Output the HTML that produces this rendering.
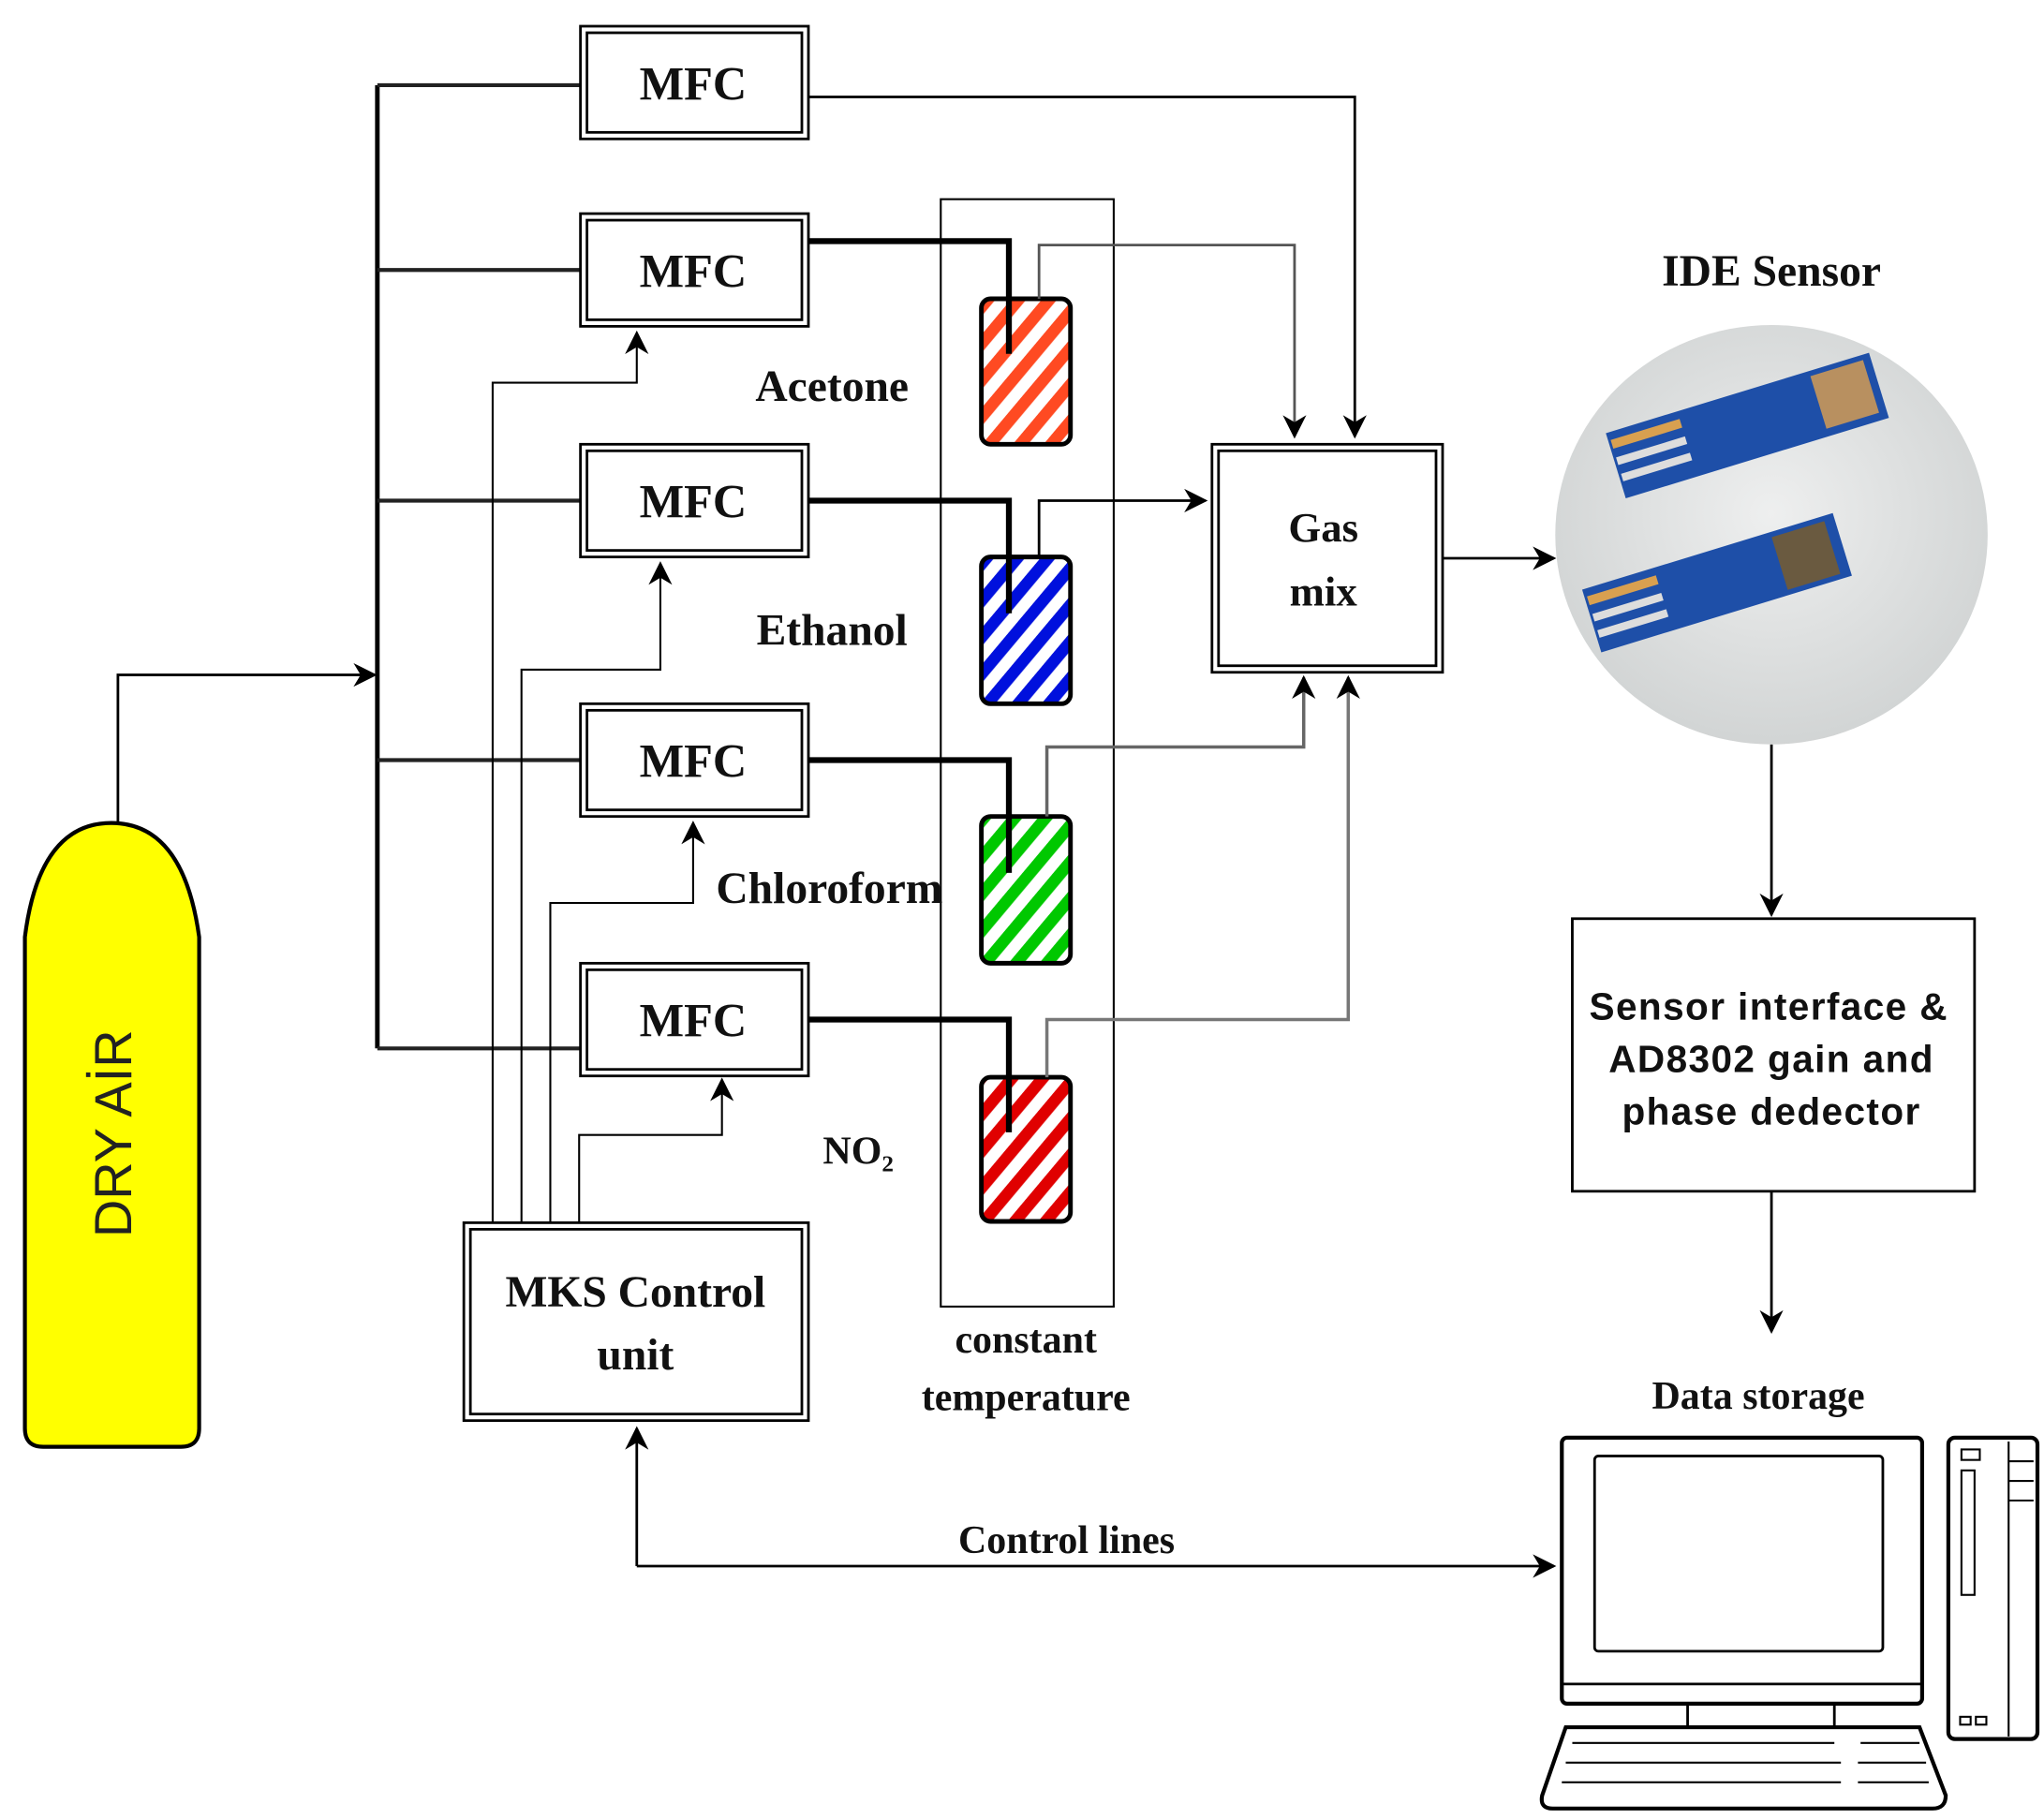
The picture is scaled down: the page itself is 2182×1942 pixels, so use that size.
<!DOCTYPE html>
<html><head><meta charset="utf-8"><style>html,body{margin:0;padding:0;background:#fff}svg{display:block}</style></head><body>
<svg xmlns="http://www.w3.org/2000/svg" width="2182" height="1942" viewBox="0 0 1560 1388" preserveAspectRatio="none">
<defs>
<marker id="b" viewBox="0 0 10 10" refX="9" refY="5" markerWidth="18" markerHeight="18" orient="auto" markerUnits="userSpaceOnUse"><path d="M0,0 L10,5 L0,10 L3,5 z" fill="#000"/></marker>
<pattern id="p1" width="18" height="18" patternUnits="userSpaceOnUse" patternTransform="rotate(40)"><rect width="18" height="18" fill="#fff"/><rect width="9" height="18" fill="#ff4a22"/></pattern>
<pattern id="p2" width="18" height="18" patternUnits="userSpaceOnUse" patternTransform="rotate(40)"><rect width="18" height="18" fill="#fff"/><rect width="9" height="18" fill="#0010dd"/></pattern>
<pattern id="p3" width="18" height="18" patternUnits="userSpaceOnUse" patternTransform="rotate(40)"><rect width="18" height="18" fill="#fff"/><rect width="9" height="18" fill="#00c800"/></pattern>
<pattern id="p4" width="18" height="18" patternUnits="userSpaceOnUse" patternTransform="rotate(40)"><rect width="18" height="18" fill="#fff"/><rect width="9" height="18" fill="#e00000"/></pattern>
<radialGradient id="g" cx="0.5" cy="0.45" r="0.6"><stop offset="0" stop-color="#eeefef"/><stop offset="1" stop-color="#cfd2d2"/></radialGradient>
</defs>
<g fill="none" stroke="#000">
<path d="M288,65 V800" stroke-width="3.5"/>
<path d="M288,65 H443 M288,206 H443 M288,382 H443 M288,580 H443 M288,800 H443" stroke-width="3" stroke="#222"/>
<path d="M90,628 V515 H286" stroke-width="2" marker-end="url(#b)"/>
<g stroke-width="2">
<rect x="443" y="20" width="174" height="86"/><rect x="448" y="25" width="164" height="76"/>
<rect x="443" y="163" width="174" height="86"/><rect x="448" y="168" width="164" height="76"/>
<rect x="443" y="339" width="174" height="86"/><rect x="448" y="344" width="164" height="76"/>
<rect x="443" y="537" width="174" height="86"/><rect x="448" y="542" width="164" height="76"/>
<rect x="443" y="735" width="174" height="86"/><rect x="448" y="740" width="164" height="76"/>
<rect x="925" y="339" width="176" height="174"/><rect x="930" y="344" width="166" height="164"/>
<rect x="354" y="933" width="263" height="151"/><rect x="359" y="938" width="253" height="141"/>
</g>
<rect x="718" y="152" width="132" height="845" stroke-width="1.5"/>
<path d="M617,74 H1034 V333" stroke-width="2" marker-end="url(#b)"/>
<rect x="749" y="228" width="68" height="111" rx="7" fill="url(#p1)" stroke-width="3.5"/>
<rect x="749" y="425" width="68" height="112" rx="7" fill="url(#p2)" stroke-width="3.5"/>
<rect x="749" y="623" width="68" height="112" rx="7" fill="url(#p3)" stroke-width="3.5"/>
<rect x="749" y="822" width="68" height="110" rx="7" fill="url(#p4)" stroke-width="3.5"/>
<path d="M617,184 H770 V270 M617,382 H770 V468 M617,580 H770 V666 M617,778 H770 V864" stroke-width="4.5"/>
<path d="M793,228 V187 H988 V333" stroke-width="2" stroke="#555" marker-end="url(#b)"/>
<path d="M793,425 V382 H920" stroke-width="2" marker-end="url(#b)"/>
<path d="M799,623 V570 H995 V517" stroke-width="2.5" stroke="#666" marker-end="url(#b)"/>
<path d="M799,822 V778 H1029 V517" stroke-width="2.5" stroke="#777" marker-end="url(#b)"/>
<path d="M376,933 V292 H486 V254" stroke-width="1.5" marker-end="url(#b)"/>
<path d="M398,933 V511 H504 V430" stroke-width="1.5" marker-end="url(#b)"/>
<path d="M420,933 V689 H529 V628" stroke-width="1.5" marker-end="url(#b)"/>
<path d="M442,933 V866 H551 V824" stroke-width="1.5" marker-end="url(#b)"/>
<path d="M486,1195 V1090" stroke-width="2" marker-end="url(#b)"/>
<path d="M486,1195 H1186" stroke-width="2" marker-end="url(#b)"/>
<path d="M1101,426 H1186" stroke-width="2" marker-end="url(#b)"/>
<path d="M1352,568 V698" stroke-width="2" marker-end="url(#b)"/>
<rect x="1200" y="701" width="307" height="208" stroke-width="2"/>
<path d="M1352,909 V1016" stroke-width="2" marker-end="url(#b)"/>
</g>
<path d="M19,1090 V715 Q30,628 85,628 Q140,628 152,715 V1090 Q152,1104 138,1104 H33 Q19,1104 19,1090 Z" fill="#ffff00" stroke="#000" stroke-width="3"/>
<text transform="translate(100,865) rotate(-90)" text-anchor="middle" font-family="Liberation Sans, sans-serif" font-size="40" fill="#222">DRY AİR</text>
<ellipse cx="1352" cy="408" rx="165" ry="160" fill="url(#g)"/>
<g transform="rotate(-17 1330 330)"><rect x="1230" y="300" width="210" height="52" fill="#1e4fa8"/><rect x="1392" y="304" width="42" height="42" fill="#b89060"/><rect x="1232" y="306" width="55" height="7" fill="#d8a050"/><rect x="1232" y="320" width="55" height="6" fill="#ddd"/><rect x="1232" y="333" width="55" height="6" fill="#ddd"/></g>
<g transform="rotate(-17 1310 450)"><rect x="1212" y="420" width="200" height="50" fill="#1e4fa8"/><rect x="1362" y="424" width="42" height="42" fill="#6a5a40"/><rect x="1214" y="426" width="55" height="7" fill="#d8a050"/><rect x="1214" y="440" width="55" height="6" fill="#ddd"/><rect x="1214" y="453" width="55" height="6" fill="#ddd"/></g>
<g fill="none" stroke="#000" stroke-width="3">
<rect x="1192" y="1097" width="275" height="203" rx="4" fill="#fff"/>
<rect x="1217" y="1111" width="220" height="149" rx="3" stroke-width="2"/>
<path d="M1192,1285 H1467" stroke-width="2"/>
<rect x="1288" y="1300" width="112" height="18" stroke-width="2"/>
<path d="M1195,1318 H1465 L1485,1370 Q1485,1380 1475,1380 H1185 Q1175,1380 1177,1370 Z" fill="#fff"/>
<path d="M1200,1330 H1400 M1195,1345 H1405 M1192,1360 H1405 M1420,1330 H1465 M1418,1345 H1470 M1418,1360 H1472" stroke-width="1.5"/>
<rect x="1487" y="1097" width="68" height="230" rx="5" fill="#fff"/>
<rect x="1497" y="1106" width="14" height="8" stroke-width="1.5"/><rect x="1497" y="1122" width="10" height="95" stroke-width="1.5"/>
<path d="M1533,1100 V1325 M1533,1115 H1552 M1533,1130 H1552 M1533,1145 H1552" stroke-width="1.5"/>
<rect x="1496" y="1310" width="8" height="6" stroke-width="1.5"/><rect x="1508" y="1310" width="8" height="6" stroke-width="1.5"/>
</g>
<g font-family="Liberation Serif, serif" font-weight="bold" fill="#111" text-anchor="middle">
<g font-size="36"><text x="529" y="76">MFC</text><text x="529" y="219">MFC</text><text x="529" y="395">MFC</text><text x="529" y="593">MFC</text><text x="529" y="791">MFC</text></g>
<g font-size="34"><text x="635" y="306">Acetone</text><text x="635" y="492">Ethanol</text><text x="633" y="689">Chloroform</text></g>
<text x="655" y="888" font-size="30">NO₂</text>
<g font-size="32"><text x="1010" y="413">Gas</text><text x="1010" y="462">mix</text></g>
<g font-size="34"><text x="485" y="997">MKS Control</text><text x="485" y="1045">unit</text></g>
<g font-size="30"><text x="783" y="1032">constant</text><text x="783" y="1076">temperature</text></g>
<text x="1352" y="218" font-size="34">IDE Sensor</text>
<text x="1342" y="1075" font-size="30">Data storage</text>
<text x="814" y="1185" font-size="30">Control lines</text>
</g>
<g font-family="Liberation Sans, sans-serif" font-weight="bold" font-size="29" fill="#111" text-anchor="middle" letter-spacing="1">
<text x="1350" y="778">Sensor interface &amp;</text><text x="1352" y="818">AD8302  gain and</text><text x="1352" y="858">phase dedector</text>
</g>
</svg>
</body></html>
